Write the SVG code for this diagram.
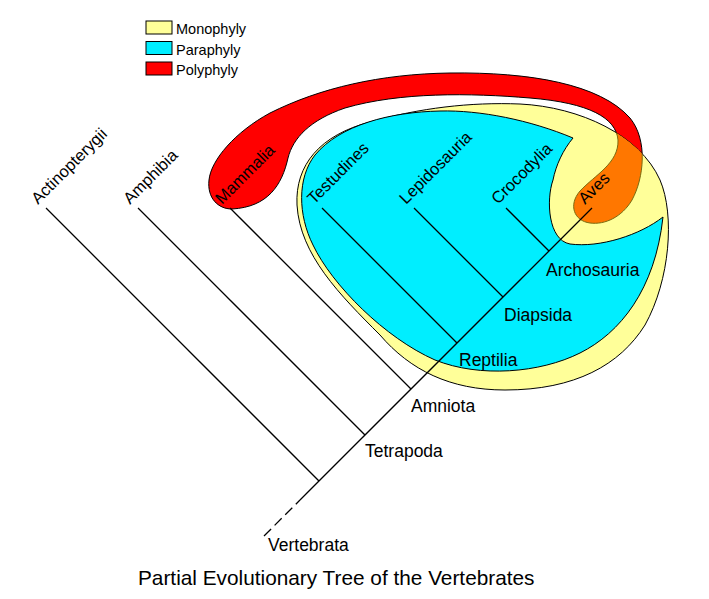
<svg xmlns="http://www.w3.org/2000/svg" width="709" height="599" viewBox="0 0 709 599">
<style>
text{font-family:"Liberation Sans",Arial,sans-serif;fill:#000}
.leaf{font-size:16.5px}
.node{font-size:17.5px}
.leg{font-size:14.5px}
.title{font-size:20.8px}
.br{stroke:#000;stroke-width:1.3;fill:none}
.sh{stroke:#000;stroke-width:1}
</style>
<defs>
<path id="yel" d="M297,205 C295,165 320,135 370,122 C420,108 470,102 520,104 C580,107 640,135 660,180 C675,215 670,280 645,325 C620,365 575,390 505,390 C450,390 410,370 380,335 C340,295 300,255 297,205 Z"/>
<path id="red" d="M232,209 C218,209 207,198 209,180 C211,160 235,132 270,113 C320,88 380,74 450,73 C530,72 600,84 630,118 C648,140 644,178 632,200 C622,217 605,225 590,223 C574,221 568,205 580,191 C595,175 619,163 618,140 C616,118 590,103 530,98 C470,93 400,92 345,108 C310,120 293,138 288,158 C282,185 268,207 232,209 Z"/>
<clipPath id="inYel"><use href="#yel"/></clipPath>
</defs>
<rect width="709" height="599" fill="#fff"/>
<g id="legend">
<g id="leg-mono"><rect x="146" y="21" width="26" height="13" fill="#FFFF99" class="sh"/><text class="leg" x="176" y="33.5">Monophyly</text></g>
<g id="leg-para"><rect x="146" y="41.5" width="26" height="13" fill="#00EEFF" class="sh"/><text class="leg" x="176" y="54.5">Paraphyly</text></g>
<g id="leg-poly"><rect x="146" y="62" width="26" height="13" fill="#FF0000" class="sh"/><text class="leg" x="176" y="75">Polyphyly</text></g>
</g>
<g id="polyphyly"><use href="#red" fill="#FF0000" class="sh"/></g>
<g id="monophyly"><use href="#yel" fill="#FFFF99" class="sh"/></g>
<g id="overlap" clip-path="url(#inYel)"><use href="#red" fill="#FF7700" stroke="#7A6A10" stroke-width="1"/></g>
<g id="paraphyly"><path class="sh" fill="#00EEFF" d="M573,138 C530,120 480,110 440,111 C390,112 340,125 315,155 C297,178 298,215 313,245 C332,285 385,338 435,360 C480,378 540,373 580,353 C620,333 655,290 663,217 C640,235 600,248 570,244 C548,240 546,200 553,180 C556,165 563,150 573,138 Z"/></g>
<g id="connectors">
<path class="br" d="M264,536 L300,500" stroke-dasharray="10 5"/>
<path class="br" d="M300,500 L592,208"/>
<path class="br" d="M319,481 L46,208"/>
<path class="br" d="M365,435 L138,208"/>
<path class="br" d="M411,389 L230,208"/>
<path class="br" d="M457,343 L322,208"/>
<path class="br" d="M503,297 L414,208"/>
<path class="br" d="M549,251 L506,208"/>
</g>
<g id="leaf-actinopterygii"><text class="leaf" transform="translate(38,205) rotate(-45)">Actinopterygii</text></g>
<g id="leaf-amphibia"><text class="leaf" transform="translate(130,205) rotate(-45)">Amphibia</text></g>
<g id="leaf-mammalia"><text class="leaf" transform="translate(222,205) rotate(-45)">Mammalia</text></g>
<g id="leaf-testudines"><text class="leaf" transform="translate(314,205) rotate(-45)">Testudines</text></g>
<g id="leaf-lepidosauria"><text class="leaf" transform="translate(406,205) rotate(-45)">Lepidosauria</text></g>
<g id="leaf-crocodylia"><text class="leaf" transform="translate(498,205) rotate(-45)">Crocodylia</text></g>
<g id="leaf-aves"><text class="leaf" transform="translate(585,205) rotate(-45)">Aves</text></g>
<g id="node-vertebrata"><text class="node" x="268" y="551">Vertebrata</text></g>
<g id="node-tetrapoda"><text class="node" x="365" y="457">Tetrapoda</text></g>
<g id="node-amniota"><text class="node" x="411" y="412">Amniota</text></g>
<g id="node-reptilia"><text class="node" x="459" y="366">Reptilia</text></g>
<g id="node-diapsida"><text class="node" x="504" y="321">Diapsida</text></g>
<g id="node-archosauria"><text class="node" x="546" y="276">Archosauria</text></g>
<text class="title" x="138" y="585">Partial Evolutionary Tree of the Vertebrates</text>
</svg>
